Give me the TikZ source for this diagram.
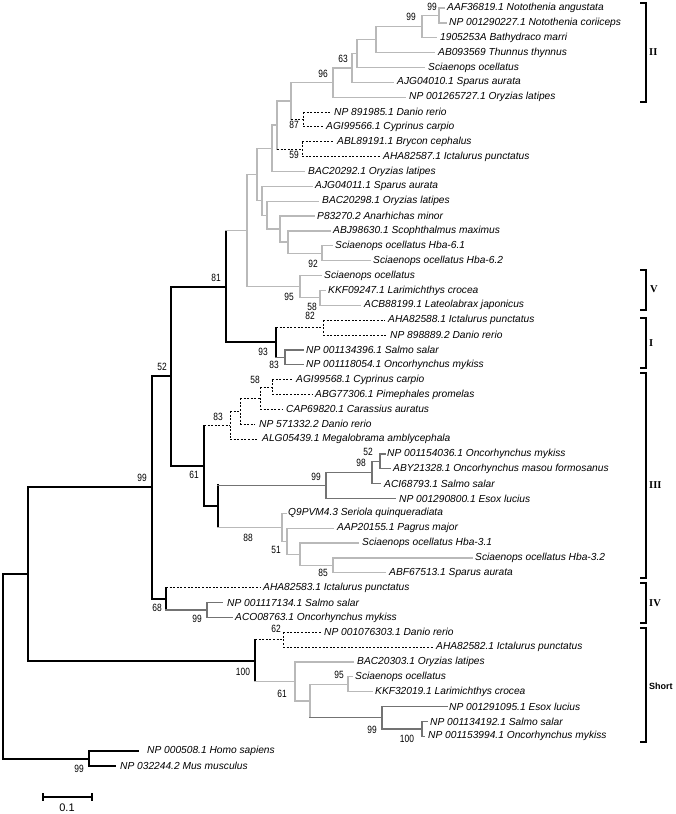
\documentclass[tikz,border=0pt]{standalone}
\usepackage{fontspec}
\setmainfont{Liberation Sans}
\newfontfamily\bsfont[FakeStretch=0.8]{Liberation Sans}
\newfontfamily\grpserif{Liberation Serif}
\definecolor{lgray}{RGB}{185,185,185}
\definecolor{dgray}{RGB}{115,115,115}
\newcommand\leaffont{\itshape\fontsize{10.2}{12}\selectfont}
\newcommand\bootfont{\bsfont\fontsize{10.5}{12}\selectfont}
\tikzset{
 blk/.style={draw=black, line width=2pt, line cap=rect},
 blkthin/.style={draw=black, line width=1.1pt, line cap=rect},
 lg/.style={draw=lgray, line width=1.3pt, line cap=rect},
 dg/.style={draw=dgray, line width=1.4pt, line cap=rect},
 dsh/.style={draw=black, line width=0.9pt, dash pattern=on 2pt off 1.6pt},
 leaf/.style={anchor=west, inner sep=0pt, font=\leaffont},
 bs/.style={inner sep=0pt, font=\bootfont},
 grp/.style={anchor=west, inner sep=0pt, font={\grpserif\bfseries\fontsize{10.5}{12}\selectfont}},
 brk/.style={draw=black, line width=1.6pt},
}
\begin{document}
\begin{tikzpicture}[x=1pt,y=-1pt]
\useasboundingbox[fill=white] (0,0) rectangle (675,814);
% ---------- internal nodes ----------
\coordinate (root) at (3,666.31);
\coordinate (nin) at (28,574.03);
\coordinate (nout) at (89,758.58);
\coordinate (n99) at (152,487.47);
\coordinate (n52) at (171,376.13);
\coordinate (n81) at (226,286.51);
\coordinate (g1) at (247,230.6);
\coordinate (h) at (257,174.53);
\coordinate (g) at (272,148.3);
\coordinate (f) at (277,125.1);
\coordinate (e) at (291,101.01);
\coordinate (d) at (333,82.55);
\coordinate (c) at (352,67.92);
\coordinate (b) at (357,53.52);
\coordinate (a) at (376,39.59);
\coordinate (n99b) at (422,26.58);
\coordinate (n99a) at (439,15.43);
\coordinate (n87) at (303,119.47);
\coordinate (n59) at (302,149.2);
\coordinate (ni) at (262,200.76);
\coordinate (nj) at (267,215.16);
\coordinate (nk) at (280,229.09);
\coordinate (nl) at (288,242.1);
\coordinate (nm) at (322,253.24);
\coordinate (v95) at (300,286.68);
\coordinate (n58) at (320,297.83);
\coordinate (n93) at (276,342.42);
\coordinate (n82) at (323,327.56);
\coordinate (n83) at (285,357.28);
\coordinate (n61) at (204,465.74);
\coordinate (n83b) at (230,425.1);
\coordinate (nz) at (240,411.16);
\coordinate (ny) at (260,398.16);
\coordinate (n58b) at (272,387.01);
\coordinate (n99c) at (218,506.38);
\coordinate (n99d) at (326,485.48);
\coordinate (n98) at (372,472.47);
\coordinate (n52b) at (380,461.32);
\coordinate (n88) at (282,527.28);
\coordinate (n51) at (287,541.22);
\coordinate (nq) at (300,554.22);
\coordinate (n85) at (333,565.36);
\coordinate (n68) at (166,598.81);
\coordinate (n99e) at (207,609.95);
\coordinate (n100) at (255,660.58);
\coordinate (n62) at (283,639.68);
\coordinate (n61b) at (295,681.48);
\coordinate (ns) at (310,700.99);
\coordinate (n95s) at (348,684.27);
\coordinate (n99f) at (382,717.71);
\coordinate (n100b) at (422,728.86);
% ---------- leaves ----------
\coordinate (t1) at (444,8.0);    \node[leaf] (l1) at (447,8.0) {AAF36819.1 Notothenia angustata};
\coordinate (t2) at (446,22.86);  \node[leaf] (l2) at (449,22.86) {NP 001290227.1 Notothenia coriiceps};
\coordinate (t3) at (436,37.73);  \node[leaf] (l3) at (440,37.73) {1905253A Bathydraco marri};
\coordinate (t4) at (434,52.59);  \node[leaf] (l4) at (438,52.59) {AB093569 Thunnus thynnus};
\coordinate (t5) at (424,67.45);  \node[leaf] (l5) at (428,67.45) {Sciaenops ocellatus};
\coordinate (t6) at (393,82.32);  \node[leaf] (l6) at (397,82.32) {AJG04010.1 Sparus aurata};
\coordinate (t7) at (405,97.18);  \node[leaf] (l7) at (409,97.18) {NP 001265727.1 Oryzias latipes};
\coordinate (t8) at (331,112.04); \node[leaf] (l8) at (334,112.04) {NP 891985.1 Danio rerio};
\coordinate (t9) at (323,126.9);  \node[leaf] (l9) at (326,126.9) {AGI99566.1 Cyprinus carpio};
\coordinate (t10) at (334,141.77); \node[leaf] (l10) at (337,141.77) {ABL89191.1 Brycon cephalus};
\coordinate (t11) at (380,156.63); \node[leaf] (l11) at (383,156.63) {AHA82587.1 Ictalurus punctatus};
\coordinate (t12) at (304,171.49); \node[leaf] (l12) at (308,171.49) {BAC20292.1 Oryzias latipes};
\coordinate (t13) at (312,186.36); \node[leaf] (l13) at (315,186.36) {AJG04011.1 Sparus aurata};
\coordinate (t14) at (318,201.22); \node[leaf] (l14) at (322,201.22) {BAC20298.1 Oryzias latipes};
\coordinate (t15) at (314,216.08); \node[leaf] (l15) at (317,216.08) {P83270.2 Anarhichas minor};
\coordinate (t16) at (330,230.95); \node[leaf] (l16) at (333,230.95) {ABJ98630.1 Scophthalmus maximus};
\coordinate (t17) at (332,245.81); \node[leaf] (l17) at (335,245.81) {Sciaenops ocellatus Hba-6.1};
\coordinate (t18) at (370,260.67); \node[leaf] (l18) at (373,260.67) {Sciaenops ocellatus Hba-6.2};
\coordinate (t19) at (321,275.53); \node[leaf] (l19) at (324,275.53) {Sciaenops ocellatus};
\coordinate (t20) at (325,290.4);  \node[leaf] (l20) at (328,290.4) {KKF09247.1 Larimichthys crocea};
\coordinate (t21) at (360,305.26); \node[leaf] (l21) at (364,305.26) {ACB88199.1 Lateolabrax japonicus};
\coordinate (t22) at (385,320.12); \node[leaf] (l22) at (388,320.12) {AHA82588.1 Ictalurus punctatus};
\coordinate (t23) at (387,334.99); \node[leaf] (l23) at (390,334.99) {NP 898889.2 Danio rerio};
\coordinate (t24) at (303,349.85); \node[leaf] (l24) at (306,349.85) {NP 001134396.1 Salmo salar};
\coordinate (t25) at (303,364.71); \node[leaf] (l25) at (306,364.71) {NP 001118054.1 Oncorhynchus mykiss};
\coordinate (t26) at (292,379.58); \node[leaf] (l26) at (296,379.58) {AGI99568.1 Cyprinus carpio};
\coordinate (t27) at (312,394.44); \node[leaf] (l27) at (315,394.44) {ABG77306.1 Pimephales promelas};
\coordinate (t28) at (282,409.3);  \node[leaf] (l28) at (286,409.3) {CAP69820.1 Carassius auratus};
\coordinate (t29) at (255,424.16); \node[leaf] (l29) at (259,424.16) {NP 571332.2 Danio rerio};
\coordinate (t30) at (257,439.03); \node[leaf] (l30) at (262,439.03) {ALG05439.1 Megalobrama amblycephala};
\coordinate (t31) at (385,453.89); \node[leaf] (l31) at (387,453.89) {NP 001154036.1 Oncorhynchus mykiss};
\coordinate (t32) at (390,468.75); \node[leaf] (l32) at (393,468.75) {ABY21328.1 Oncorhynchus masou formosanus};
\coordinate (t33) at (380,483.62); \node[leaf] (l33) at (384,483.62) {ACI68793.1 Salmo salar};
\coordinate (t34) at (395,498.48); \node[leaf] (l34) at (399,498.48) {NP 001290800.1 Esox lucius};
\coordinate (t35) at (286,513.34); \node[leaf] (l35) at (288,513.34) {Q9PVM4.3 Seriola quinqueradiata};
\coordinate (t36) at (333,528.21); \node[leaf] (l36) at (337,528.21) {AAP20155.1 Pagrus major};
\coordinate (t37) at (358,543.07); \node[leaf] (l37) at (362,543.07) {Sciaenops ocellatus Hba-3.1};
\coordinate (t38) at (472,557.93); \node[leaf] (l38) at (475,557.93) {Sciaenops ocellatus Hba-3.2};
\coordinate (t39) at (385,572.79); \node[leaf] (l39) at (389,572.79) {ABF67513.1 Sparus aurata};
\coordinate (t40) at (260,587.66); \node[leaf] (l40) at (263,587.66) {AHA82583.1 Ictalurus punctatus};
\coordinate (t41) at (222,602.52); \node[leaf] (l41) at (227,602.52) {NP 001117134.1 Salmo salar};
\coordinate (t42) at (232,617.38); \node[leaf] (l42) at (235,617.38) {ACO08763.1 Oncorhynchus mykiss};
\coordinate (t43) at (322,632.25); \node[leaf] (l43) at (324,632.25) {NP 001076303.1 Danio rerio};
\coordinate (t44) at (433,647.11); \node[leaf] (l44) at (436,647.11) {AHA82582.1 Ictalurus punctatus};
\coordinate (t45) at (353,661.97); \node[leaf] (l45) at (357,661.97) {BAC20303.1 Oryzias latipes};
\coordinate (t46) at (352,676.84); \node[leaf] (l46) at (355,676.84) {Sciaenops ocellatus};
\coordinate (t47) at (372,691.7);  \node[leaf] (l47) at (375,691.7) {KKF32019.1 Larimichthys crocea};
\coordinate (t48) at (447,706.56); \node[leaf] (l48) at (449,706.56) {NP 001291095.1 Esox lucius};
\coordinate (t49) at (427,721.42); \node[leaf] (l49) at (430,721.42) {NP 001134192.1 Salmo salar};
\coordinate (t50) at (424,736.29); \node[leaf] (l50) at (428,736.29) {NP 001153994.1 Oncorhynchus mykiss};
\coordinate (t51) at (138,751.15); \node[leaf] (l51) at (147,751.15) {NP 000508.1 Homo sapiens};
\coordinate (t52) at (115,766.01); \node[leaf] (l52) at (120,766.01) {NP 032244.2 Mus musculus};
% ---------- vertical node bars ----------
\draw[blk] (root |- nin) -- (root |- nout);
\draw[blk] (nin |- n99) -- (nin |- n100);
\draw[blk] (nout |- t51) -- (nout |- t52);
\draw[blk] (n99 |- n52) -- (n99 |- n68);
\draw[blk] (n52 |- n81) -- (n52 |- n61);
\draw[blk] (n81 |- g1) -- (n81 |- n93);
\draw[lg] (g1 |- h) -- (g1 |- v95);
\draw[lg] (h |- g) -- (h |- ni);
\draw[lg] (g |- f) -- (g |- t12);
\draw[lg] (f |- e) -- (f |- n59);
\draw[lg] (e |- d) -- (e |- n87);
\draw[lg] (d |- c) -- (d |- t7);
\draw[lg] (c |- b) -- (c |- t6);
\draw[lg] (b |- a) -- (b |- t5);
\draw[lg] (a |- n99b) -- (a |- t4);
\draw[lg] (n99b |- n99a) -- (n99b |- t3);
\draw[lg] (n99a |- t1) -- (n99a |- t2);
\draw[dsh] (n87 |- t8) -- (n87 |- t9);
\draw[dsh] (n59 |- t10) -- (n59 |- t11);
\draw[lg] (ni |- t13) -- (ni |- nj);
\draw[lg] (nj |- t14) -- (nj |- nk);
\draw[lg] (nk |- t15) -- (nk |- nl);
\draw[lg] (nl |- t16) -- (nl |- nm);
\draw[lg] (nm |- t17) -- (nm |- t18);
\draw[lg] (v95 |- t19) -- (v95 |- n58);
\draw[lg] (n58 |- t20) -- (n58 |- t21);
\draw[blk] (n93 |- n82) -- (n93 |- n83);
\draw[dsh] (n82 |- t22) -- (n82 |- t23);
\draw[dg] (n83 |- t24) -- (n83 |- t25);
\draw[blkthin] (n61 |- n83b) -- (n61 |- n99c);
\draw[dsh] (n83b |- nz) -- (n83b |- t30);
\draw[dsh] (nz |- ny) -- (nz |- t29);
\draw[dsh] (ny |- n58b) -- (ny |- t28);
\draw[dsh] (n58b |- t26) -- (n58b |- t27);
\draw[blk] (n99c |- n99d) -- (n99c |- n88);
\draw[dg] (n99d |- n98) -- (n99d |- t34);
\draw[dg] (n98 |- n52b) -- (n98 |- t33);
\draw[dg] (n52b |- t31) -- (n52b |- t32);
\draw[lg] (n88 |- t35) -- (n88 |- n51);
\draw[lg] (n51 |- t36) -- (n51 |- nq);
\draw[lg] (nq |- t37) -- (nq |- n85);
\draw[lg] (n85 |- t38) -- (n85 |- t39);
\draw[blk] (n68 |- t40) -- (n68 |- n99e);
\draw[dg] (n99e |- t41) -- (n99e |- t42);
\draw[blk] (n100 |- n62) -- (n100 |- n61b);
\draw[dsh] (n62 |- t43) -- (n62 |- t44);
\draw[lg] (n61b |- t45) -- (n61b |- ns);
\draw[lg] (ns |- n95s) -- (ns |- n99f);
\draw[lg] (n95s |- t46) -- (n95s |- t47);
\draw[dg] (n99f |- t48) -- (n99f |- n100b);
\draw[dg] (n100b |- t49) -- (n100b |- t50);
% ---------- horizontal branches ----------
\draw[blk] (nin -| root) -- (nin);
\draw[blk] (nout -| root) -- (nout);
\draw[blk] (t51 -| nout) -- (t51);
\draw[blk] (t52 -| nout) -- (t52);
\draw[blk] (n99 -| nin) -- (n99);
\draw[blk] (n100 -| nin) -- (n100);
\draw[blk] (n52 -| n99) -- (n52);
\draw[blk] (n68 -| n99) -- (n68);
\draw[blk] (n81 -| n52) -- (n81);
\draw[blk] (n61 -| n52) -- (n61);
\draw[lg] (g1 -| n81) -- (g1);
\draw[blk] (n93 -| n81) -- (n93);
\draw[lg] (h -| g1) -- (h);
\draw[lg] (v95 -| g1) -- (v95);
\draw[lg] (g -| h) -- (g);
\draw[lg] (ni -| h) -- (ni);
\draw[lg] (f -| g) -- (f);
\draw[lg] (t12 -| g) -- (t12);
\draw[lg] (e -| f) -- (e);
\draw[dsh] (n59 -| f) -- (n59);
\draw[lg] (d -| e) -- (d);
\draw[dsh] (n87 -| e) -- (n87);
\draw[lg] (c -| d) -- (c);
\draw[lg] (t7 -| d) -- (t7);
\draw[lg] (b -| c) -- (b);
\draw[lg] (t6 -| c) -- (t6);
\draw[lg] (a -| b) -- (a);
\draw[lg] (t5 -| b) -- (t5);
\draw[lg] (n99b -| a) -- (n99b);
\draw[lg] (t4 -| a) -- (t4);
\draw[lg] (n99a -| n99b) -- (n99a);
\draw[lg] (t3 -| n99b) -- (t3);
\draw[lg] (t1 -| n99a) -- (t1);
\draw[lg] (t2 -| n99a) -- (t2);
\draw[dsh] (t8 -| n87) -- (t8);
\draw[dsh] (t9 -| n87) -- (t9);
\draw[dsh] (t10 -| n59) -- (t10);
\draw[dsh] (t11 -| n59) -- (t11);
\draw[lg] (t13 -| ni) -- (t13);
\draw[lg] (nj -| ni) -- (nj);
\draw[lg] (t14 -| nj) -- (t14);
\draw[lg] (nk -| nj) -- (nk);
\draw[lg] (t15 -| nk) -- (t15);
\draw[lg] (nl -| nk) -- (nl);
\draw[lg] (t16 -| nl) -- (t16);
\draw[lg] (nm -| nl) -- (nm);
\draw[lg] (t17 -| nm) -- (t17);
\draw[lg] (t18 -| nm) -- (t18);
\draw[lg] (t19 -| v95) -- (t19);
\draw[lg] (n58 -| v95) -- (n58);
\draw[lg] (t20 -| n58) -- (t20);
\draw[lg] (t21 -| n58) -- (t21);
\draw[dsh] (n82 -| n93) -- (n82);
\draw[dg] (n83 -| n93) -- (n83);
\draw[dsh] (t22 -| n82) -- (t22);
\draw[dsh] (t23 -| n82) -- (t23);
\draw[dg] (t24 -| n83) -- (t24);
\draw[dg] (t25 -| n83) -- (t25);
\draw[dsh] (n83b -| n61) -- (n83b);
\draw[blk] (n99c -| n61) -- (n99c);
\draw[dsh] (nz -| n83b) -- (nz);
\draw[dsh] (t30 -| n83b) -- (t30);
\draw[dsh] (ny -| nz) -- (ny);
\draw[dsh] (t29 -| nz) -- (t29);
\draw[dsh] (n58b -| ny) -- (n58b);
\draw[dsh] (t28 -| ny) -- (t28);
\draw[dsh] (t26 -| n58b) -- (t26);
\draw[dsh] (t27 -| n58b) -- (t27);
\draw[dg] (n99d -| n99c) -- (n99d);
\draw[lg] (n88 -| n99c) -- (n88);
\draw[dg] (n98 -| n99d) -- (n98);
\draw[dg] (t34 -| n99d) -- (t34);
\draw[dg] (n52b -| n98) -- (n52b);
\draw[dg] (t33 -| n98) -- (t33);
\draw[dg] (t31 -| n52b) -- (t31);
\draw[dg] (t32 -| n52b) -- (t32);
\draw[lg] (t35 -| n88) -- (t35);
\draw[lg] (n51 -| n88) -- (n51);
\draw[lg] (t36 -| n51) -- (t36);
\draw[lg] (nq -| n51) -- (nq);
\draw[lg] (t37 -| nq) -- (t37);
\draw[lg] (n85 -| nq) -- (n85);
\draw[lg] (t38 -| n85) -- (t38);
\draw[lg] (t39 -| n85) -- (t39);
\draw[dsh] (t40 -| n68) -- (t40);
\draw[dg] (n99e -| n68) -- (n99e);
\draw[dg] (t41 -| n99e) -- (t41);
\draw[dg] (t42 -| n99e) -- (t42);
\draw[dsh] (n62 -| n100) -- (n62);
\draw[lg] (n61b -| n100) -- (n61b);
\draw[dsh] (t43 -| n62) -- (t43);
\draw[dsh] (t44 -| n62) -- (t44);
\draw[lg] (t45 -| n61b) -- (t45);
\draw[lg] (ns -| n61b) -- (ns);
\draw[lg] (n95s -| ns) -- (n95s);
\draw[dg] (n99f -| ns) -- (n99f);
\draw[lg] (t46 -| n95s) -- (t46);
\draw[lg] (t47 -| n95s) -- (t47);
\draw[dg] (t48 -| n99f) -- (t48);
\draw[dg] (n100b -| n99f) -- (n100b);
\draw[dg] (t49 -| n100b) -- (t49);
\draw[dg] (t50 -| n100b) -- (t50);
% ---------- bootstrap values ----------
\node[bs] (bs1) at (432,7) {99};
\node[bs] (bs2) at (411,17) {99};
\node[bs] (bs3) at (343,59) {63};
\node[bs] (bs4) at (323,74) {96};
\node[bs] (bs5) at (294,125) {87};
\node[bs] (bs6) at (294,155) {59};
\node[bs] (bs7) at (313,264) {92};
\node[bs] (bs8) at (289,297) {95};
\node[bs] (bs9) at (312,307) {58};
\node[bs] (bs10) at (216,278) {81};
\node[bs] (bs11) at (310,316) {82};
\node[bs] (bs12) at (263,352) {93};
\node[bs] (bs13) at (274,365) {83};
\node[bs] (bs14) at (162,367) {52};
\node[bs] (bs15) at (255,380) {58};
\node[bs] (bs16) at (218,417) {83};
\node[bs] (bs17) at (194,475) {61};
\node[bs] (bs18) at (142,478) {99};
\node[bs] (bs19) at (368,452) {52};
\node[bs] (bs20) at (361,463) {98};
\node[bs] (bs21) at (316,477) {99};
\node[bs] (bs22) at (248,538) {88};
\node[bs] (bs23) at (276,550) {51};
\node[bs] (bs24) at (323,573) {85};
\node[bs] (bs25) at (157,608) {68};
\node[bs] (bs26) at (197,619) {99};
\node[bs] (bs27) at (276,629) {62};
\node[bs] (bs28) at (243,672) {100};
\node[bs] (bs29) at (282,694) {61};
\node[bs] (bs30) at (339,675) {95};
\node[bs] (bs31) at (372,730) {99};
\node[bs] (bs32) at (407,739) {100};
\node[bs] (bs33) at (79,769) {99};
% ---------- group brackets ----------
\draw[brk] (640,3) -- (646,3) -- (646,102) -- (640,102);
\node[grp] (gII) at (649,52) {II};
\draw[brk] (640,270) -- (646,270) -- (646,310) -- (640,310);
\node[grp] (gV) at (650,289) {V};
\draw[brk] (640,318) -- (646,318) -- (646,368) -- (640,368);
\node[grp] (gI) at (649,343) {I};
\draw[brk] (640,373) -- (646,373) -- (646,578) -- (640,578);
\node[grp] (gIII) at (649,485) {III};
\draw[brk] (640,583) -- (646,583) -- (646,623) -- (640,623);
\node[grp] (gIV) at (649,603) {IV};
\draw[brk] (640,628) -- (646,628) -- (646,742) -- (640,742);
\node[anchor=west, inner sep=0pt, font={\bfseries\fontsize{9}{11}\selectfont}] (gShort) at (649,686) {Short};
% ---------- scale bar ----------
\coordinate (sb1) at (43,797);
\coordinate (sb2) at (92,797);
\draw[black, line width=1.6pt] (sb1) -- (sb2);
\draw[black, line width=1.6pt] ([yshift=4pt]sb1) -- ([yshift=-4pt]sb1);
\draw[black, line width=1.6pt] ([yshift=4pt]sb2) -- ([yshift=-4pt]sb2);
\node[inner sep=0pt, font=\fontsize{11}{13}\selectfont] (sbl) at (67,807.5) {0.1};
\end{tikzpicture}
\end{document}
